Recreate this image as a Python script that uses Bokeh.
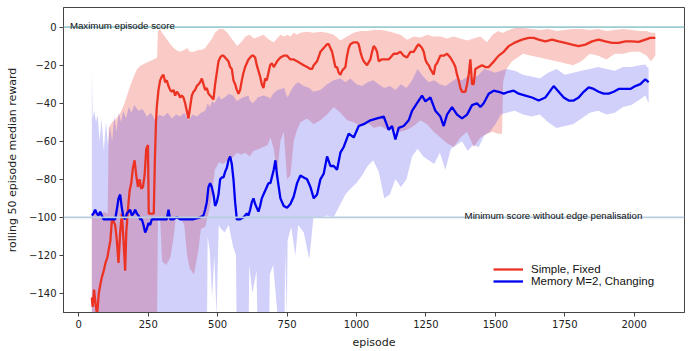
from bokeh.plotting import figure
from bokeh.models import Range1d, FixedTicker, Span, Label, Legend, LegendItem
from bokeh.embed import file_html
from bokeh.resources import INLINE

# ---------------- data ----------------
red_ep = [47, 50, 55, 60, 66, 72, 78, 84, 90, 96, 103, 109, 114, 119, 125, 131, 137, 143, 149, 155,
          161, 167, 171, 177, 183, 189, 195, 201, 207, 213, 219, 225, 231, 237, 243, 249, 252, 258, 264, 270,
          274, 278, 281, 287, 293, 299, 305, 311, 317, 323, 329, 335, 341, 347, 353, 359, 365, 371, 377, 383,
          389, 395, 401, 407, 413, 419, 425, 431, 437, 443, 449, 455, 461, 467, 473, 479, 485, 491, 497, 503,
          509, 515, 521, 527, 533, 539, 545, 551, 557, 563, 569, 575, 581, 587, 593, 599, 605, 611, 617, 623,
          629, 635, 641, 647, 653, 659, 665, 671, 677, 683, 689, 695, 702, 714, 726, 738, 750, 762, 774, 786,
          798, 810, 822, 834, 840, 846, 858, 870, 882, 894, 900, 906, 912, 918, 924, 930, 936, 942, 948, 960,
          966, 972, 978, 990, 1002, 1008, 1014, 1020, 1026, 1038, 1050, 1056, 1062, 1068, 1074, 1080, 1090, 1098, 1116, 1134,
          1146, 1158, 1170, 1182, 1194, 1206, 1218, 1224, 1236, 1242, 1248, 1254, 1260, 1266, 1278, 1284, 1290, 1302, 1314, 1326,
          1338, 1350, 1356, 1362, 1368, 1374, 1380, 1392, 1398, 1404, 1410, 1416, 1422, 1428, 1440, 1452, 1464, 1476, 1495, 1512,
          1530, 1548, 1572, 1596, 1620, 1638, 1656, 1680, 1704, 1728, 1752, 1776, 1800, 1824, 1848, 1872, 1896, 1920, 1944, 1968,
          1992, 2016, 2040, 2058, 2076]
red_med = [-142, -147, -138, -145, -151, -140, -135, -131, -128, -124, -121, -116, -112, -102, -102, -104, -112, -124, -108, -98,
           -112, -128, -108, -96, -86, -82, -74, -70, -78, -84, -80, -85, -84, -78, -64, -62, -98, -98, -98, -98,
           -70, -50, -42, -33, -28, -26, -25, -29, -28, -31, -33, -34, -33, -36, -34, -35, -37, -36, -37, -40,
           -44, -48, -42, -36, -34, -33, -31, -30, -29, -27, -30, -33, -32, -35, -36, -37, -38, -30, -24, -18,
           -16, -15, -15, -16, -17, -18, -21, -22, -28, -30, -33, -35, -33, -28, -24, -21, -19, -17, -16, -15,
           -15, -16, -20, -23, -26, -30, -32, -27, -28, -24, -20, -19, -21, -18, -16, -15, -15, -17, -17, -18,
           -19, -20, -21, -22, -22, -20, -18, -13, -11, -9, -9, -11, -13, -17, -21, -21, -24, -25, -23, -21,
           -15, -11, -9, -8, -8, -9, -13, -16, -18, -20, -17, -13, -10, -11, -13, -18, -17, -17, -17, -14,
           -14, -13, -15, -16, -13, -13, -10, -9, -11, -13, -17, -19, -20, -22, -25, -20, -19, -15, -15, -14,
           -16, -19, -21, -25, -28, -32, -34, -34, -30, -25, -17, -30, -30, -22, -21, -20, -21, -21, -18, -15,
           -13, -10, -8, -6.6, -5.7, -5.7, -6.6, -7.5, -6.6, -7.5, -8.3, -9.2, -10, -9.2, -7.5, -6.6, -7.5, -8.3, -8.3, -7.5,
           -7.5, -7.8, -6.6, -5.7, -5.7]

red_band_ep = [47, 60, 75, 90, 104, 108, 120, 135, 150, 165, 180, 195, 210, 225, 240, 255, 270, 282, 285, 293,
               300, 315, 330, 342, 350, 365, 380, 390, 400, 415, 430, 440, 455, 470, 480, 490, 505, 520, 535, 550,
               570, 585, 600, 615, 630, 650, 665, 680, 690, 702, 714, 726, 738, 750, 762, 774, 786, 798, 822, 846,
               870, 894, 918, 942, 966, 990, 1014, 1038, 1062, 1086, 1110, 1134, 1158, 1182, 1206, 1230, 1254, 1278, 1302, 1326,
               1350, 1374, 1398, 1422, 1446, 1470, 1490, 1510, 1524, 1528, 1540, 1560, 1580, 1600, 1630, 1660, 1690, 1720, 1750, 1780,
               1810, 1840, 1870, 1900, 1930, 1960, 1990, 2020, 2045, 2060, 2076]
red_lo = [-152, -152, -152, -152, -152, -152, -152, -152, -152, -152, -152, -152, -152, -152, -152, -152, -152, -152, -101, -101,
          -123, -125, -121, -110, -99, -100, -104, -120, -127, -130, -118, -106, -105, -96, -88, -75, -71, -72, -70, -69,
          -66, -67, -66, -68, -65, -64, -63, -62, -58, -64, -78, -60, -55, -80, -78, -60, -54, -50, -48, -51,
          -49, -46, -42, -45, -49, -50, -52, -50, -53, -52, -54, -54, -55, -54, -52, -49, -51, -55, -58, -61,
          -63, -58, -55, -63, -58, -56, -55, -56, -56, -29, -22, -18, -16, -14, -15, -16, -17, -18, -19, -20,
          -18, -14, -15, -17, -14, -14, -13, -13, -15, -18, -15]
red_hi = [-98, -96, -99, -97, -98, -53, -50, -48, -45, -40, -33, -27, -22, -20, -19, -18, -17, -16, -2, -1,
          -3, -6, -9, -11, -12, -13, -12, -11, -13, -13, -12, -12, -11, -8, -6, -3, -1, -1, -3, -6,
          -10, -8, -5, -4, -6, -5, -4, -6, -7, -8, -6, -4, -5, -4, -5, -3, -4, -3, -2.5, -3,
          -2.5, -3, -4, -7, -5, -3, -2, -2, -1.5, -1.5, -2, -3, -4, -6.6, -5, -5.5, -4, -5, -5, -6,
          -5, -6, -7, -6, -5, -8, -4, -2, -3, -3, -2, -1, 0, -0.5, -1, -1.5, -1, -2, -1.5, -1,
          -1, -1.5, -1, -2, -1.5, -1, -1.5, -2, -2, -3, -3]

blue_ep = [47, 53, 59, 65, 71, 77, 83, 89, 95, 107, 119, 131, 137, 143, 149, 155, 161, 167, 173, 179,
           185, 191, 197, 203, 209, 215, 221, 227, 233, 239, 245, 251, 257, 263, 269, 281, 293, 305, 317, 323,
           329, 341, 353, 365, 377, 389, 401, 413, 437, 449, 455, 461, 467, 473, 479, 485, 491, 497, 503, 509,
           515, 521, 527, 533, 539, 545, 551, 557, 563, 569, 581, 593, 599, 605, 611, 617, 623, 629, 635, 641,
           647, 653, 659, 665, 671, 677, 683, 690, 702, 708, 714, 726, 738, 750, 762, 774, 786, 798, 810, 822,
           834, 846, 858, 870, 882, 894, 906, 918, 930, 942, 954, 972, 990, 1008, 1026, 1050, 1074, 1098, 1116, 1128,
           1140, 1152, 1170, 1188, 1200, 1218, 1236, 1248, 1266, 1284, 1302, 1314, 1326, 1344, 1362, 1380, 1398, 1416, 1434, 1446,
           1458, 1476, 1494, 1512, 1530, 1548, 1566, 1584, 1608, 1632, 1656, 1680, 1698, 1710, 1728, 1746, 1764, 1782, 1800, 1818,
           1836, 1854, 1872, 1890, 1908, 1926, 1944, 1968, 1986, 2004, 2022, 2040, 2052]
blue_med = [-99, -98, -96, -98, -99, -97, -99, -101, -101, -101, -101, -101, -96, -90, -88, -95, -100, -101, -98, -97,
            -96, -99, -98, -96, -98, -99, -101, -101, -104, -108, -106, -103, -104, -101, -101, -101, -101, -101, -101, -96,
            -101, -101, -100, -101, -101, -101, -101, -101, -100, -99, -96, -92, -84, -82, -84, -88, -94, -92, -88, -80,
            -79, -79, -76, -74, -70, -68, -72, -80, -92, -101, -101, -100, -99, -98, -99, -96, -92, -90, -93, -95,
            -97, -94, -90, -88, -86, -84, -82, -82, -75, -70, -78, -90, -94, -95, -93, -89, -82, -78, -79, -80,
            -84, -90, -88, -80, -77, -68, -73, -73, -75, -66, -63, -56, -58, -52, -51, -49, -48, -47, -54, -52,
            -59, -53, -52, -49, -44, -40, -36, -39, -37, -44, -47, -52, -46, -42, -46, -48, -46, -41, -40, -42,
            -40, -35, -33.4, -34, -35, -34, -33.4, -35, -36, -37, -38.6, -37, -33.4, -31, -34, -37, -38.6, -38.6, -37, -34,
            -31.7, -32.5, -34, -35, -35, -34, -32.5, -32.5, -32.5, -31, -30, -27.4, -29]

blue_band_ep = [47, 50, 56, 62, 68, 75, 82, 90, 98, 105, 112, 120, 128, 136, 144, 152, 160, 170, 180, 190,
                200, 215, 230, 245, 260, 275, 290, 305, 320, 335, 350, 365, 380, 395, 410, 425, 440, 455, 462, 464,
                472, 480, 488, 496, 504, 512, 525, 540, 555, 566, 568, 590, 612, 614, 625, 640, 643, 665, 686, 688,
                700, 716, 741, 743, 749, 752, 765, 780, 790, 810, 830, 845, 870, 894, 918, 942, 960, 978, 1000, 1020,
                1040, 1060, 1080, 1100, 1120, 1140, 1160, 1180, 1200, 1220, 1240, 1260, 1280, 1300, 1320, 1340, 1360, 1380, 1400, 1420,
                1440, 1460, 1480, 1500, 1520, 1540, 1570, 1600, 1630, 1660, 1690, 1720, 1750, 1780, 1810, 1840, 1870, 1900, 1930, 1960,
                1990, 2020, 2040, 2052]
blue_lo = [-152, -152, -152, -152, -152, -152, -152, -152, -152, -152, -152, -152, -152, -152, -152, -152, -152, -152, -152, -152,
           -152, -152, -152, -152, -152, -152, -152, -152, -152, -152, -152, -152, -152, -152, -152, -152, -152, -152, -152, -110,
           -118, -142, -120, -152, -104, -106, -108, -104, -115, -120, -152, -152, -152, -125, -140, -128, -152, -152, -152, -130,
           -125, -152, -152, -118, -152, -112, -105, -120, -104, -108, -122, -100, -100, -99, -100, -93, -88, -85, -82, -78,
           -73, -70, -76, -90, -88, -80, -84, -80, -68, -64, -68, -70, -72, -66, -75, -64, -62, -60, -65, -62,
           -63, -57, -55, -51, -46, -45, -44, -46, -47, -46, -50, -53, -52, -51, -48, -45, -44, -46, -45, -42,
           -41, -38, -36, -40]
blue_hi = [-22, -48, -44, -50, -46, -60, -48, -65, -50, -62, -52, -60, -47, -55, -45, -50, -44, -48, -42, -45,
           -41, -44, -43, -47, -45, -49, -46, -47, -45, -48, -46, -47, -45, -49, -46, -47, -45, -44, -41, -40,
           -42, -39, -40, -38, -36, -38, -37, -35, -36, -38, -39, -37, -36, -38, -40, -38, -37, -36, -37, -38,
           -35, -33, -32, -34, -36, -37, -33, -30, -29, -31, -32, -34, -33, -30, -28, -27, -29, -27, -30, -31,
           -29, -28, -30, -32, -31, -33, -30, -32, -28, -22, -26, -29, -28, -30, -31, -29, -27, -28, -26, -27,
           -25, -22, -23, -24, -23, -22, -23, -25, -26, -27, -24, -22, -25, -24, -23, -22, -21, -22, -23, -21,
           -21, -20, -19.6, -22]

x_ticks = [0, 250, 500, 750, 1000, 1250, 1500, 1750, 2000]
y_ticks = [0, -20, -40, -60, -80, -100, -120, -140]

red_label = "Simple, Fixed"
blue_label = "Memory M=2, Changing"
max_text = "Maximum episode score"
min_text = "Minimum score without edge penalisation"

# ---------------- figure ----------------
p = figure(width=690, height=351, output_backend="svg", toolbar_location=None,
           x_range=Range1d(-55, 2181), y_range=Range1d(-150, 10.3),
           min_border_left=63, min_border_right=6, min_border_top=7, min_border_bottom=35)
p.xgrid.visible = False
p.ygrid.visible = False
p.outline_line_color = "#444444"
p.outline_line_width = 1
p.background_fill_color = "white"
p.border_fill_color = "white"

RED = "#ec3323"
BLUE = "#0000f0"

p.varea(x=red_band_ep, y1=red_lo, y2=red_hi, fill_color="#ee3b2c", fill_alpha=0.27)
p.varea(x=blue_band_ep, y1=blue_lo, y2=blue_hi, fill_color="#2a2aee", fill_alpha=0.22)

p.add_layout(Span(location=0, dimension="width", line_color="#9ccbd2", line_width=1.6))
p.add_layout(Span(location=-100, dimension="width", line_color="#b8cde0", line_width=1.6))

r_red = p.line(red_ep, red_med, line_color=RED, line_width=2.3)
r_blue = p.line(blue_ep, blue_med, line_color=BLUE, line_width=2.3)

p.add_layout(Label(x=-32, y=0.9, text=max_text, text_font="Liberation Sans",
                   text_font_size="9.7px", text_color="#111111", text_baseline="alphabetic"))
p.add_layout(Label(x=2029, y=-98.8, text=min_text, text_font="Liberation Sans",
                   text_font_size="9.7px", text_color="#111111", text_baseline="alphabetic",
                   text_align="right"))

legend = Legend(items=[LegendItem(label=red_label, renderers=[r_red]),
                       LegendItem(label=blue_label, renderers=[r_blue])],
                location=(430, 25))
legend.border_line_alpha = 0
legend.background_fill_alpha = 0
legend.padding = 0
legend.margin = 0
legend.spacing = -1
legend.glyph_width = 30
legend.glyph_height = 10
legend.label_height = 10
legend.label_standoff = 8
legend.label_text_font = "Liberation Sans"
legend.label_text_font_size = "11.5px"
legend.label_text_color = "#111111"
p.add_layout(legend)

for ax in (p.xaxis[0], p.yaxis[0]):
    ax.axis_line_color = "#444444"
    ax.major_tick_line_color = "#444444"
    ax.major_tick_out = 4
    ax.major_tick_in = 0
    ax.minor_tick_line_color = None
    ax.major_label_text_font = "DejaVu Sans"
    ax.major_label_text_font_size = "10px"
    ax.major_label_text_color = "#222222"
    ax.axis_label_text_font = "DejaVu Sans"
    ax.axis_label_text_font_size = "11px"
    ax.axis_label_text_font_style = "normal"
    ax.axis_label_text_color = "#222222"

p.xaxis[0].ticker = FixedTicker(ticks=x_ticks)
p.yaxis[0].ticker = FixedTicker(ticks=y_ticks)
p.yaxis[0].major_label_overrides = {v: (str(v).replace("-", "\u2212")) for v in y_ticks}
p.xaxis[0].axis_label = "episode"
p.yaxis[0].axis_label = "rolling 50 episode median reward"
p.xaxis[0].major_label_standoff = 3
p.yaxis[0].major_label_standoff = 3
p.xaxis[0].axis_label_standoff = 5
p.yaxis[0].axis_label_standoff = 7

open("out.html", "w").write(file_html(p, INLINE))
